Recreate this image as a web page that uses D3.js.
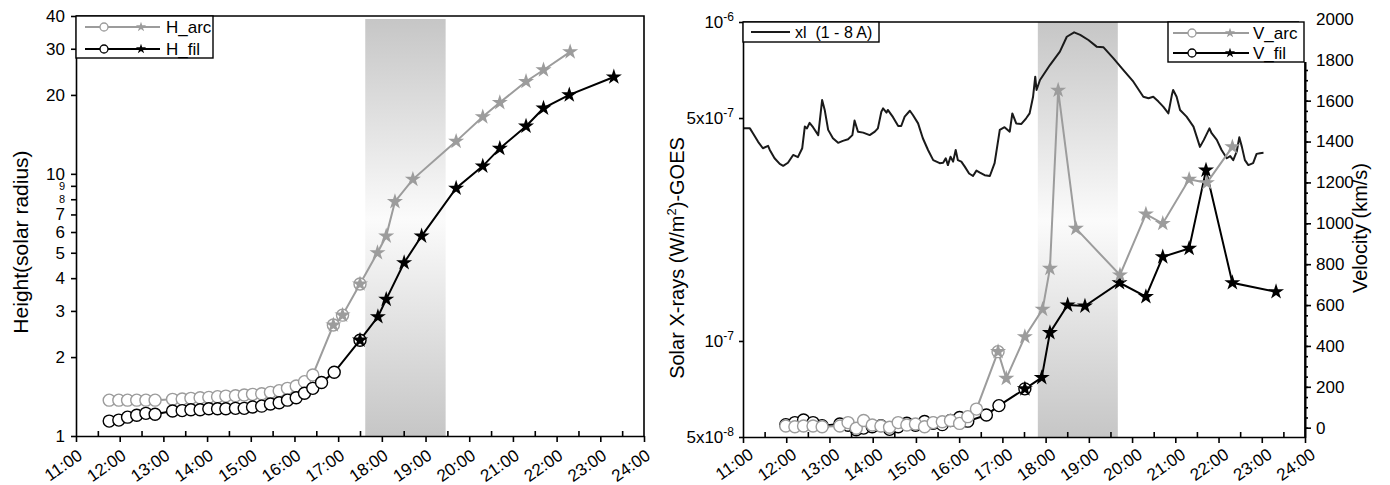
<!DOCTYPE html>
<html>
<head>
<meta charset="utf-8">
<script src="https://cdn.jsdelivr.net/npm/d3@7/dist/d3.min.js"></script>
<style>
    body { margin: 0; background: #fff; }
    svg { font-family: "Liberation Sans", Arial, sans-serif; }
    .axis path, .axis line { stroke: #000; stroke-width: 1.6; }
    .axis text { font-size: 17px; fill: #000; }
    .time-axis text { font-size: 17px; }
    .axis text.small { font-size: 11px; }
</style>
</head>
<body>
<svg id="chart" width="1390" height="485"></svg>
<script>
// Time axis labels (decimal hours -> label)
var hourTicks = [11, 12, 13, 14, 15, 16, 17, 18, 19, 20, 21, 22, 23, 24],
    hourLabels = ["11:00", "12:00", "13:00", "14:00", "15:00", "16:00", "17:00",
                  "18:00", "19:00", "20:00", "21:00", "22:00", "23:00", "24:00"],
    halfHourTicks = [11.5, 12.5, 13.5, 14.5, 15.5, 16.5, 17.5, 18.5, 19.5, 20.5, 21.5, 22.5, 23.5];

var heightTicks = [1, 2, 3, 4, 5, 6, 7, 8, 9, 10, 20, 30, 40];
var fluxTicks = [5e-8, 1e-7, 5e-7, 1e-6],
    fluxTickBase = ["5x10", "10", "5x10", "10"],
    fluxTickExp = ["-8", "-7", "-7", "-6"];
var velocityTicks = [0, 200, 400, 600, 800, 1000, 1200, 1400, 1600, 1800, 2000];

// shaded intervals (decimal hours)
var bandLeft = [17.62, 19.46],
    bandRight = [17.82, 19.67];

// Height of the arc / filament (solar radius)
var hArcCircleTime = [11.76, 11.98, 12.18, 12.39, 12.60, 12.81, 13.21, 13.43, 13.63, 13.84, 14.04, 14.24, 14.43,
                      14.65, 14.85, 15.04, 15.25, 15.45, 15.65, 15.84, 16.04, 16.23, 16.42, 16.89, 17.10, 17.50];
var hArcCircleValue = [1.37, 1.37, 1.37, 1.37, 1.37, 1.37, 1.38, 1.384, 1.392, 1.40, 1.404, 1.413, 1.42,
                       1.425, 1.434, 1.442, 1.45, 1.467, 1.489, 1.52, 1.551, 1.612, 1.709, 2.65, 2.89, 3.80];
var hArcStarTime = [16.89, 17.10, 17.50, 17.90, 18.10, 18.30, 18.71, 19.70, 20.31, 20.70, 21.30, 21.70, 22.31];
var hArcStarValue = [2.65, 2.89, 3.80, 5.00, 5.79, 7.83, 9.53, 13.3, 16.5, 18.7, 22.5, 24.9, 29.2];

var hFilCircleTime = [11.76, 11.98, 12.18, 12.39, 12.60, 12.81, 13.21, 13.43, 13.63, 13.84, 14.04, 14.24, 14.43,
                      14.65, 14.85, 15.04, 15.25, 15.45, 15.65, 15.84, 16.04, 16.23, 16.42, 16.62, 16.91, 17.50];
var hFilCircleValue = [1.14, 1.15, 1.18, 1.20, 1.22, 1.21, 1.245, 1.25, 1.26, 1.26, 1.27, 1.27, 1.27,
                       1.275, 1.275, 1.29, 1.30, 1.325, 1.34, 1.37, 1.40, 1.455, 1.52, 1.60, 1.75, 2.32];
var hFilStarTime = [17.50, 17.91, 18.10, 18.51, 18.91, 19.70, 20.31, 20.70, 21.30, 21.70, 22.29, 23.31];
var hFilStarValue = [2.32, 2.85, 3.32, 4.58, 5.79, 8.81, 10.7, 12.5, 15.2, 17.8, 20.0, 23.4];

// Velocity (km/s)
var vArcCircleTime = [11.99, 12.20, 12.40, 12.62, 12.83, 13.24, 13.43, 13.62, 13.79, 13.99, 14.19, 14.39,
                      14.59, 14.79, 14.99, 15.20, 15.40, 15.61, 15.80, 16.01, 16.20, 16.40, 16.90];
var vArcCircleValue = [8, 5, 8, 8, 5, 8, 25, -3, 35, 13, 8, 2, 25, 13, 18, 5, 25, 29, 35, 21, 54, 91, 372];
var vArcStarTime = [16.90, 17.09, 17.52, 17.93, 18.10, 18.29, 18.70, 19.72, 20.32, 20.71, 21.32, 21.73, 22.32];
var vArcStarValue = [372, 241, 445, 579, 779, 1651, 975, 747, 1045, 999, 1215, 1198, 1374];

var vFilCircleTime = [11.99, 12.20, 12.40, 12.62, 12.83, 13.24, 13.43, 13.62, 13.79, 13.99, 14.19, 14.39,
                      14.59, 14.79, 14.99, 15.20, 15.40, 15.61, 15.80, 16.01, 16.20, 16.63, 16.92, 17.52];
var vFilCircleValue = [15, 25, 38, 25, 10, 18, 12, -10, -2, 5, 10, -8, 5, 22, 12, 30, 22, 15, 35, 50, 32, 62, 108, 190];
var vFilStarTime = [17.52, 17.91, 18.10, 18.51, 18.91, 19.71, 20.32, 20.71, 21.32, 21.71, 22.32, 23.33];
var vFilStarValue = [190, 245, 465, 600, 595, 709, 641, 836, 877, 1260, 709, 665];

// GOES X-ray flux 1-8 A (W/m^2)
var xrayTime = [11.00, 11.16, 11.23, 11.35, 11.46, 11.58, 11.62, 11.73, 11.85, 11.93, 12.04, 12.16, 12.27,
                12.37, 12.43, 12.48, 12.54, 12.62, 12.74, 12.77, 12.83, 12.89, 12.97, 13.08, 13.20, 13.31,
                13.43, 13.53, 13.58, 13.66, 13.78, 13.93, 14.05, 14.12, 14.20, 14.24, 14.32, 14.35, 14.47,
                14.59, 14.66, 14.74, 14.86, 14.93, 15.05, 15.16, 15.28, 15.40, 15.55, 15.63, 15.69, 15.74,
                15.80, 15.86, 15.92, 15.97, 16.05, 16.13, 16.23, 16.32, 16.40, 16.48, 16.59, 16.71, 16.82,
                16.94, 17.05, 17.17, 17.23, 17.32, 17.44, 17.55, 17.63, 17.71, 17.76, 17.79, 17.87, 18.10,
                18.33, 18.49, 18.66, 18.80, 18.99, 19.18, 19.34, 19.57, 19.80, 20.03, 20.26, 20.38, 20.49,
                20.61, 20.72, 20.84, 20.92, 20.95, 21.03, 21.11, 21.26, 21.42, 21.57, 21.66, 21.79, 21.84,
                21.96, 22.07, 22.19, 22.27, 22.34, 22.42, 22.48, 22.54, 22.61, 22.69, 22.80, 22.88, 22.96, 23.04];
var xrayFlux = [4.64e-7, 4.64e-7, 4.48e-7, 4.21e-7, 4.02e-7, 4.09e-7, 3.97e-7, 3.74e-7, 3.59e-7, 3.54e-7,
                3.62e-7, 3.83e-7, 3.77e-7, 4.02e-7, 4.70e-7, 4.64e-7, 4.83e-7, 4.68e-7, 4.42e-7, 4.81e-7,
                5.69e-7, 5.30e-7, 4.59e-7, 4.32e-7, 4.18e-7, 4.24e-7, 4.29e-7, 4.42e-7, 4.91e-7, 4.53e-7,
                4.50e-7, 4.42e-7, 4.53e-7, 4.64e-7, 5.23e-7, 5.36e-7, 5.20e-7, 5.30e-7, 5.03e-7, 4.72e-7,
                4.72e-7, 5.05e-7, 5.27e-7, 5.11e-7, 4.81e-7, 4.32e-7, 3.97e-7, 3.69e-7, 3.61e-7, 3.62e-7,
                3.74e-7, 3.56e-7, 3.78e-7, 3.65e-7, 3.97e-7, 3.69e-7, 3.65e-7, 3.52e-7, 3.35e-7, 3.29e-7,
                3.42e-7, 3.37e-7, 3.31e-7, 3.29e-7, 3.61e-7, 4.59e-7, 4.68e-7, 4.53e-7, 5.17e-7, 4.81e-7,
                4.79e-7, 4.99e-7, 5.17e-7, 5.83e-7, 6.74e-7, 6.12e-7, 6.58e-7, 7.33e-7, 8.07e-7, 8.99e-7,
                9.28e-7, 9.11e-7, 8.78e-7, 8.37e-7, 8.33e-7, 7.69e-7, 7.07e-7, 6.50e-7, 5.83e-7, 5.77e-7,
                5.83e-7, 5.63e-7, 5.43e-7, 5.17e-7, 5.90e-7, 6.12e-7, 5.83e-7, 5.30e-7, 5.05e-7, 4.70e-7,
                4.06e-7, 4.27e-7, 4.64e-7, 4.48e-7, 4.27e-7, 3.97e-7, 3.74e-7, 3.80e-7, 3.69e-7, 3.92e-7,
                4.35e-7, 4.06e-7, 3.69e-7, 3.56e-7, 3.61e-7, 3.86e-7, 3.88e-7, 3.89e-7];

var grey = "#9c9c9c";

var svg = d3.select("#chart");

var defs = svg.append("defs");
var gradient = defs.append("linearGradient")
    .attr("id", "bandGradient")
    .attr("x1", "0%").attr("y1", "0%")
    .attr("x2", "0%").attr("y2", "100%");
gradient.append("stop").attr("offset", "0%").attr("stop-color", "#c6c6c6");
gradient.append("stop").attr("offset", "48%").attr("stop-color", "#fbfbfb");
gradient.append("stop").attr("offset", "100%").attr("stop-color", "#c6c6c6");

function zip(times, values) {
    return times.map(function (t, i) { return {t: t, v: values[i]}; });
}

// line through circle and star points (shared points once)
function mergePoints(circles, stars) {
    var all = circles.concat(stars).sort(function (a, b) { return a.t - b.t; });
    return all.filter(function (d, i) { return i === 0 || d.t !== all[i - 1].t; });
}

function drawSeries(g, x, y, circles, stars, color) {
    g.append("path")
        .datum(mergePoints(circles, stars))
        .attr("fill", "none")
        .attr("stroke", color)
        .attr("stroke-width", 2)
        .attr("d", d3.line()
            .x(function (d) { return x(d.t); })
            .y(function (d) { return y(d.v); }));

    g.append("g").selectAll("circle")
        .data(circles)
        .enter()
        .append("circle")
        .attr("cx", function (d) { return x(d.t); })
        .attr("cy", function (d) { return y(d.v); })
        .attr("r", 6)
        .attr("fill", "#fff")
        .attr("stroke", color)
        .attr("stroke-width", 1.4);

    g.append("g").selectAll("path")
        .data(stars)
        .enter()
        .append("path")
        .attr("d", d3.symbol().type(d3.symbolStar).size(80))
        .attr("transform", function (d) { return "translate(" + x(d.t) + "," + y(d.v) + ")"; })
        .attr("fill", color);
}

function drawTimeAxis(g, x, y0, dx, dy) {
    g.append("g")
        .attr("class", "axis time-axis")
        .attr("transform", "translate(0," + y0 + ")")
        .call(d3.axisBottom(x)
            .tickValues(hourTicks)
            .tickSize(6)
            .tickSizeOuter(0)
            .tickFormat(function (d, i) { return hourLabels[i]; }))
        .selectAll("text")
        .attr("y", 0).attr("dy", 0)
        .attr("text-anchor", "end")
        .attr("transform", "translate(" + dx + "," + dy + ") rotate(-35)");

    let minor = g.append("g")
        .attr("class", "axis")
        .attr("transform", "translate(0," + y0 + ")")
        .call(d3.axisBottom(x).tickValues(halfHourTicks).tickSize(-5).tickFormat(""));
    minor.select(".domain").remove();
}

function drawLegend(g, box, rows) {
    g.append("rect")
        .attr("x", box[0]).attr("y", box[1])
        .attr("width", box[2]).attr("height", box[3])
        .attr("fill", "#fff").attr("stroke", "#000").attr("stroke-width", 1.4);
    rows.forEach(function (r) {
        g.append("line")
            .attr("x1", r.x1).attr("x2", r.x2).attr("y1", r.y).attr("y2", r.y)
            .attr("stroke", r.color).attr("stroke-width", 2);
        if (r.cx) {
            g.append("circle").attr("cx", r.cx).attr("cy", r.y).attr("r", r.r)
                .attr("fill", "#fff").attr("stroke", r.color).attr("stroke-width", 1.3);
        }
        if (r.sx) {
            g.append("path").attr("d", d3.symbol().type(d3.symbolStar).size(32))
                .attr("transform", "translate(" + r.sx + "," + r.y + ")")
                .attr("fill", r.color);
        }
        g.append("text").attr("x", r.tx).attr("y", r.y + 6)
            .attr("font-size", r.fs || 17)
            .style("white-space", "pre")
            .text(r.label);
    });
}

// ---------------- Left panel: heights ----------------
function drawLeftPanel() {
    var x = d3.scaleLinear().domain([11, 24]).range([76, 644]),
        y = d3.scaleLog().domain([1, 40]).range([436, 16]);
    var g = svg.append("g");

    g.append("rect")
        .attr("x", x(bandLeft[0])).attr("y", 19)
        .attr("width", x(bandLeft[1]) - x(bandLeft[0]))
        .attr("height", 436 - 19)
        .attr("fill", "url(#bandGradient)");

    drawSeries(g, x, y, zip(hArcCircleTime, hArcCircleValue), zip(hArcStarTime, hArcStarValue), grey);
    drawSeries(g, x, y, zip(hFilCircleTime, hFilCircleValue), zip(hFilStarTime, hFilStarValue), "#000");

    // frame
    g.append("path")
        .attr("d", "M76,16H644V436")
        .attr("fill", "none").attr("stroke", "#000").attr("stroke-width", 1.6);

    drawTimeAxis(g, x, 436, 7, 22);

    g.append("g")
        .attr("class", "axis")
        .attr("transform", "translate(76,0)")
        .call(d3.axisLeft(y)
            .tickValues(heightTicks)
            .tickSize(5)
            .tickSizeOuter(0)
            .tickPadding(6)
            .tickFormat(function (d) { return d; }))
        .selectAll(".tick text")
        // 8 and 9 are squeezed under the 10 label, as in the original
        .classed("small", function (d) { return d === 8 || d === 9; });

    g.append("text")
        .attr("transform", "translate(28,242) rotate(-90)")
        .attr("text-anchor", "middle")
        .attr("font-size", 21)
        .text("Height(solar radius)");

    drawLegend(g, [76, 16, 137, 42], [
        {y: 27, x1: 85, x2: 160, cx: 104, r: 4, sx: 141, color: grey, tx: 166, label: "H_arc"},
        {y: 49, x1: 85, x2: 160, cx: 104, r: 4, sx: 141, color: "#000", tx: 166, label: "H_fil"}
    ]);
}

// ---------------- Right panel: X-rays and velocities ----------------
function drawRightPanel() {
    var x = d3.scaleLinear().domain([11, 24]).range([743, 1305]),
        yFlux = d3.scaleLog().domain([5e-8, 1e-6]).range([437, 22]),
        yVel = d3.scaleLinear().domain([-45.5, 2000]).range([437, 18.9]);
    var g = svg.append("g");

    g.append("rect")
        .attr("x", x(bandRight[0])).attr("y", 22)
        .attr("width", x(bandRight[1]) - x(bandRight[0]))
        .attr("height", 437 - 22)
        .attr("fill", "url(#bandGradient)");

    g.append("path")
        .datum(zip(xrayTime, xrayFlux))
        .attr("fill", "none")
        .attr("stroke", "#1a1a1a")
        .attr("stroke-width", 2)
        .attr("stroke-linejoin", "round")
        .attr("d", d3.line()
            .x(function (d) { return x(d.t); })
            .y(function (d) { return yFlux(d.v); }));

    drawSeries(g, x, yVel, zip(vFilCircleTime, vFilCircleValue), zip(vFilStarTime, vFilStarValue), "#000");
    drawSeries(g, x, yVel, zip(vArcCircleTime, vArcCircleValue), zip(vArcStarTime, vArcStarValue), grey);

    g.append("path")
        .attr("d", "M743,22H1305")
        .attr("fill", "none").attr("stroke", "#000").attr("stroke-width", 1.6);

    drawTimeAxis(g, x, 437, 11, 20);

    // left log axis
    g.append("g")
        .attr("class", "axis")
        .attr("transform", "translate(743,0)")
        .call(d3.axisLeft(yFlux).tickValues(fluxTicks).tickSize(4).tickSizeOuter(0).tickPadding(5).tickFormat(""))
        .selectAll(".tick text")
        .each(function (d, i) {
            let t = d3.select(this);
            t.text(fluxTickBase[i]);
            t.append("tspan").attr("dy", -7).attr("font-size", 12).text(fluxTickExp[i]);
        });

    // right velocity axis
    g.append("g")
        .attr("class", "axis")
        .attr("transform", "translate(1305,0)")
        .call(d3.axisRight(yVel).tickValues(d3.range(0, 2001, 50)).tickSize(3).tickSizeOuter(0).tickFormat(""));
    g.append("g")
        .attr("class", "axis")
        .attr("transform", "translate(1305,0)")
        .call(d3.axisRight(yVel).tickValues(velocityTicks).tickSize(6).tickSizeOuter(0).tickPadding(5)
            .tickFormat(function (d) { return d; }));
    g.append("line")
        .attr("x1", 1305).attr("x2", 1305).attr("y1", 22).attr("y2", 437)
        .attr("stroke", "#000").attr("stroke-width", 1.6);

    let left = g.append("text")
        .attr("transform", "translate(684,258) rotate(-90)")
        .attr("text-anchor", "middle")
        .attr("font-size", 20)
        .text("Solar X-rays (W/m");
    left.append("tspan").attr("dy", -8).attr("font-size", 13).text("2");
    left.append("tspan").attr("dy", 8).text(")-GOES");

    g.append("text")
        .attr("transform", "translate(1367,228) rotate(-90)")
        .attr("text-anchor", "middle")
        .attr("font-size", 20)
        .text("Velocity (km/s)");

    // cover the axis behind the velocity legend
    g.append("rect").attr("x", 1299).attr("y", 10).attr("width", 15).attr("height", 52).attr("fill", "#fff");

    drawLegend(g, [743, 22, 136, 20], [
        {y: 32, x1: 751, x2: 790, color: "#1a1a1a", tx: 795, label: "xl  (1 - 8 A)", fs: 16}
    ]);
    drawLegend(g, [1168, 22, 136, 40], [
        {y: 33, x1: 1173, x2: 1249, cx: 1192, r: 4, sx: 1230, color: grey, tx: 1253, label: "V_arc"},
        {y: 53, x1: 1173, x2: 1249, cx: 1192, r: 4, sx: 1230, color: "#000", tx: 1253, label: "V_fil"}
    ]);
}

drawLeftPanel();
drawRightPanel();
</script>
</body>
</html>
